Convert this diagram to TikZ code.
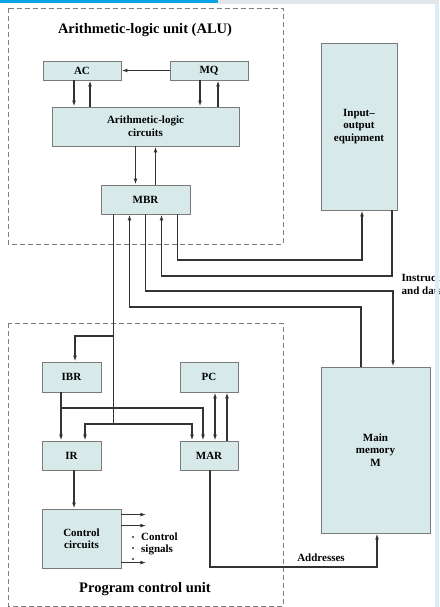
\documentclass[tikz,border=0pt]{standalone}
\usepackage{fontspec}
\setmainfont{Liberation Serif}
\usetikzlibrary{arrows.meta}
\definecolor{boxfill}{HTML}{D8E9E9}
\definecolor{boxline}{HTML}{7A7A7A}
\definecolor{wire}{HTML}{333333}
\definecolor{dashc}{HTML}{7E7E7E}
\definecolor{topblue}{HTML}{0AA3E6}
\definecolor{topgray}{HTML}{E2E6EA}
\definecolor{sideblue}{HTML}{D9EEF8}
\begin{document}
\begin{tikzpicture}[x=1pt,y=-1pt,
  reg/.style={draw=boxline,fill=boxfill,line width=0.8pt,inner sep=0pt,font=\bfseries\fontsize{11}{12.5}\selectfont,align=center},
  unit/.style={draw=dashc,line width=0.8pt,dash pattern=on 5pt off 3pt},
  wl/.style={draw=wire,line width=1.2pt},
  arr/.style={wl,-{Latex[length=6pt,width=3.8pt]}},
  darr/.style={wl,{Latex[length=6pt,width=3.8pt]}-{Latex[length=6pt,width=3.8pt]}},
  lbl/.style={font=\bfseries\fontsize{11}{12.5}\selectfont,align=left,inner sep=0pt},
  ttl/.style={font=\bfseries\fontsize{14.5}{16}\selectfont,inner sep=0pt}]
\useasboundingbox (0,0) rectangle (439,607);
% screenshot edges
\fill[topgray] (218,0) rectangle (439,4);
\fill[topblue] (0,0) rectangle (218,3.5);
% units
\draw[unit] (8,8) rectangle (283,244);
\draw[unit] (8,323) rectangle (283,606);
\node[ttl] (alut) at (145,30) {Arithmetic-logic unit (ALU)};
\node[ttl] (pcut) at (145,589) {Program control unit};
% boxes
\node[reg,minimum width=78pt,minimum height=19pt] (AC) at (82,70.5) {AC};
\node[reg,minimum width=78pt,minimum height=19pt] (MQ) at (209,70.5) {MQ};
\node[reg,minimum width=187pt,minimum height=39pt] (ALC) at (145.5,126.5) {Arithmetic-logic\\circuits};
\node[reg,minimum width=89pt,minimum height=29pt] (MBR) at (145.5,199.5) {MBR};
\node[reg,minimum width=76pt,minimum height=167pt] (IO) at (359,126.5) {Input--\\output\\equipment};
\node[reg,minimum width=59pt,minimum height=30pt] (IBR) at (71.5,377) {IBR};
\node[reg,minimum width=58pt,minimum height=30pt] (PC) at (209,377) {PC};
\node[reg,minimum width=59pt,minimum height=29pt] (IR) at (71.5,455.5) {IR};
\node[reg,minimum width=58pt,minimum height=29pt] (MAR) at (209,455.5) {MAR};
\node[reg,minimum width=79pt,minimum height=59pt] (CC) at (81.5,538.5) {Control\\circuits};
\node[reg,minimum width=109pt,minimum height=166pt] (MEM) at (375.5,450) {Main\\memory\\M};
% helper levels
\coordinate (yA) at (0,260);
\coordinate (yB) at (0,276);
\coordinate (yF) at (0,291);
\coordinate (yG) at (0,307);
\coordinate (yC) at (0,336);
\coordinate (yD) at (0,408);
\coordinate (yE) at (0,424);
\coordinate (yH) at (0,567);
% ALU internal
\draw[arr] (MQ.west) -- (AC.east);
\draw[arr] ([xshift=-8]AC.south) -- ([xshift=-8]AC.south |- ALC.north);
\draw[arr] ([xshift=8]AC.south |- ALC.north) -- ([xshift=8]AC.south);
\draw[arr] ([xshift=-9]MQ.south) -- ([xshift=-9]MQ.south |- ALC.north);
\draw[arr] ([xshift=9]MQ.south |- ALC.north) -- ([xshift=9]MQ.south);
\draw[arr] ([xshift=-10]ALC.south) -- ([xshift=-10]ALC.south |- MBR.north);
\draw[arr] ([xshift=10]ALC.south |- MBR.north) -- ([xshift=10]ALC.south);
% MBR bus
\coordinate (m1) at ([xshift=-32]MBR.south);
\coordinate (m2) at ([xshift=-16]MBR.south);
\coordinate (m3) at (MBR.south);
\coordinate (m4) at ([xshift=16]MBR.south);
\coordinate (m5) at ([xshift=32]MBR.south);
\coordinate (io1) at ([xshift=3]IO.south);
\coordinate (io2) at ([xshift=33]IO.south);
\coordinate (mem1) at ([xshift=-14.5]MEM.north);
\coordinate (mem2) at ([xshift=17.5]MEM.north);
\draw[arr] (m5) -- (m5 |- yA) -| (io1);
\draw[arr] (io2) -- (io2 |- yB) -| (m4);
\draw[arr] (m3) -- (m3 |- yF) -| (mem2);
\draw[arr] (mem1) -- (mem1 |- yG) -| (m2);
% program control
\coordinate (ibrin) at ([xshift=3.5]IBR.north);
\coordinate (ibrout) at ([xshift=-10.5]IBR.south);
\coordinate (irin2) at ([xshift=13.5]IR.north);
\coordinate (marin1) at ([xshift=-17]MAR.north);
\coordinate (marin2) at ([xshift=-6]MAR.north);
\draw[arr] (m1) -- (m1 |- yC) -| (ibrin);
\draw[wl] (m1 |- yC) -- (m1 |- yE);
\draw[arr] (m1 |- yE) -| (irin2);
\draw[arr] (m1 |- yE) -| (marin1);
\draw[arr] (ibrout) -- (ibrout |- IR.north);
\draw[arr] (ibrout |- yD) -| (marin2);
\draw[darr] ([xshift=6]PC.south) -- ([xshift=6]PC.south |- MAR.north);
\draw[arr] ([xshift=18]PC.south |- MAR.north) -- ([xshift=18]PC.south);
\draw[arr] ([xshift=2.5]IR.south) -- ([xshift=2.5]IR.south |- CC.north);
% control signals
\draw[arr] ([yshift=-6]CC.north east) -- ++(25,0);
\draw[arr] ([yshift=-17]CC.north east) -- ++(25,0);
\draw[arr] ([yshift=-54]CC.north east) -- ++(25,0);
\fill[wire] (133,537) circle (1.1pt) (133,548) circle (1.1pt) (133,559) circle (1.1pt);
\node[lbl,anchor=west] (cs) at (141,544) {Control\\signals};
% addresses
\coordinate (marout) at ([xshift=1]MAR.south);
\coordinate (memin) at ([xshift=1.5]MEM.south);
\draw[arr] (marout) -- (marout |- yH) -| (memin);
\node[lbl] (addr) at (321,558) {Addresses};
\node[lbl,anchor=west] (instr) at (401.5,284) {Instructions\\and data};
% right screenshot edge
\fill[sideblue] (435,4) rectangle (439,607);
\end{tikzpicture}
\end{document}
